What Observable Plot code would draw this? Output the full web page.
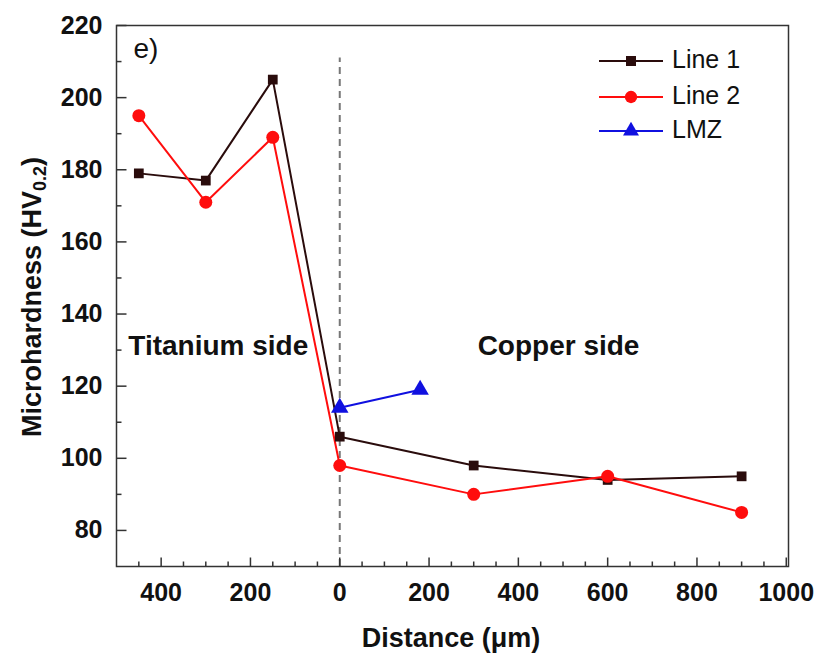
<!DOCTYPE html>
<html><head><meta charset="utf-8">
<script src="https://cdn.jsdelivr.net/npm/d3@7"></script>
<script src="https://cdn.jsdelivr.net/npm/@observablehq/plot@0.6"></script>
<style>body{margin:0;background:#fff} svg{font-family:"Liberation Sans",Arial,sans-serif}</style>
</head><body><div id="chart"></div>
<script>
// Data
const distances = [-450, -300, -150, 0, 300, 600, 900];
const line1 = [179, 177, 205, 106, 98, 94, 95];
const line2 = [195, 171, 189, 98, 90, 95, 85];
const lmzDistances = [0, 180];
const lmz = [114, 119];
const seriesNames = ["Line 1", "Line 2", "LMZ"];
const xMajor = [-400, -200, 0, 200, 400, 600, 800, 1000];
const xMinor = [-450, -350, -300, -250, -150, -100, -50, 50, 100, 150, 250, 300, 350, 450, 500, 550, 650, 700, 750, 850, 900, 950];
const yMajor = [80, 100, 120, 140, 160, 180, 200, 220];
const yMinor = [90, 110, 130, 150, 170, 190, 210];
const annotations = [
  {x: -272, y: 131, label: "Titanium side"},
  {x: 490, y: 131, label: "Copper side"}
];

const colors = {"Line 1": "#2a0c0c", "Line 2": "#ff0d0d", "LMZ": "#1010e0"};

const t1 = distances.map((d, i) => ({x: d, y: line1[i], s: "Line 1"}));
const t2 = distances.map((d, i) => ({x: d, y: line2[i], s: "Line 2"}));
const t3 = lmzDistances.map((d, i) => ({x: d, y: lmz[i], s: "LMZ"}));

const W = 820, H = 657;
const ML = 116, MR = 32, MT = 25, MB = 91;
const PW = W - ML - MR, PH = H - MT - MB;
const font = '"Liberation Sans", Arial, sans-serif';
const xMin = -500, xMax = 1005, yMin = 70, yMax = 220;
// pixel lengths of inward ticks converted to data units
const yPerPx = (yMax - yMin) / PH, xPerPx = (xMax - xMin) / PW;

const tickStyle = {stroke: "#333", strokeWidth: 1.5};

const plot = Plot.plot({
  width: W, height: H,
  marginLeft: ML, marginRight: MR, marginTop: MT, marginBottom: MB,
  style: {fontFamily: font, background: "white", overflow: "visible"},
  x: {domain: [xMin, xMax]},
  y: {domain: [yMin, yMax]},
  marks: [
    Plot.ruleX([0], {y1: yMin, y2: 211, stroke: "#777", strokeWidth: 2, strokeDasharray: "7,5"}),
    Plot.axisX({ticks: xMajor, tickSize: 0, tickPadding: 17, tickFormat: d => String(Math.abs(d)), fontSize: 25, fontWeight: "bold", fill: "#111", label: null}),
    Plot.axisY({ticks: yMajor, tickSize: 0, tickPadding: 14, fontSize: 25, fontWeight: "bold", fill: "#111", label: null}),
    // inward ticks
    Plot.link(xMajor, {x1: d => d, x2: d => d, y1: yMin, y2: yMin + 9 * yPerPx, ...tickStyle}),
    Plot.link(xMinor, {x1: d => d, x2: d => d, y1: yMin, y2: yMin + 5 * yPerPx, ...tickStyle}),
    Plot.link(yMajor, {y1: d => d, y2: d => d, x1: xMin, x2: xMin + 10 * xPerPx, ...tickStyle}),
    Plot.link(yMinor, {y1: d => d, y2: d => d, x1: xMin, x2: xMin + 5 * xPerPx, ...tickStyle}),
    Plot.frame({stroke: "#333", strokeWidth: 1.5}),
    Plot.line(t1, {x: "x", y: "y", stroke: colors["Line 1"], strokeWidth: 2}),
    Plot.line(t2, {x: "x", y: "y", stroke: colors["Line 2"], strokeWidth: 2}),
    Plot.line(t3, {x: "x", y: "y", stroke: colors["LMZ"], strokeWidth: 2}),
    Plot.dot(t1, {x: "x", y: "y", symbol: "square", r: 5.5, fill: colors["Line 1"]}),
    Plot.dot(t2, {x: "x", y: "y", symbol: "circle", r: 6.5, fill: colors["Line 2"]}),
    Plot.dot(t3, {x: "x", y: "y", symbol: "triangle", r: 6.5, fill: colors["LMZ"]}),
    Plot.text(annotations, {x: "x", y: "y", text: "label", fontSize: 28, fontWeight: "bold", fill: "#111"}),
    Plot.text(["e)"], {frameAnchor: "top-left", dx: 17, dy: 13, fontSize: 28, fill: "#111", textAnchor: "start", lineAnchor: "top"})
  ]
});

const svg = d3.select(plot);
// Axis labels
svg.append("text")
  .attr("x", 451).attr("y", 640)
  .attr("text-anchor", "middle").attr("dominant-baseline", "middle")
  .attr("font-size", 27).attr("font-weight", "bold").attr("fill", "#111")
  .text("Distance (μm)");
const yl = svg.append("text")
  .attr("transform", "translate(34,297) rotate(-90)")
  .attr("text-anchor", "middle").attr("dominant-baseline", "middle")
  .attr("font-size", 27).attr("font-weight", "bold").attr("fill", "#111");
yl.append("tspan").text("Microhardness (HV");
yl.append("tspan").attr("font-size", 18).attr("dy", 7).text("0.2");
yl.append("tspan").attr("dy", -7).text(")");

// Legend
const lg = svg.append("g");
const legendY = [61, 97, 131];
seriesNames.forEach((name, i) => {
  const y = legendY[i];
  lg.append("line").attr("x1", 599).attr("x2", 663).attr("y1", y).attr("y2", y)
    .attr("stroke", colors[name]).attr("stroke-width", 2);
  const sym = d3.symbol(name === "Line 1" ? d3.symbolSquare : name === "Line 2" ? d3.symbolCircle : d3.symbolTriangle,
    name === "Line 1" ? 100 : name === "Line 2" ? 120 : 110);
  lg.append("path").attr("d", sym()).attr("transform", `translate(631,${y})`).attr("fill", colors[name]);
  lg.append("text").attr("x", 672).attr("y", y).attr("dominant-baseline", "middle")
    .attr("text-anchor", "start")
    .attr("font-size", 25).attr("fill", "#111").text(name);
});

document.getElementById("chart").appendChild(plot);
</script>
</body></html>
